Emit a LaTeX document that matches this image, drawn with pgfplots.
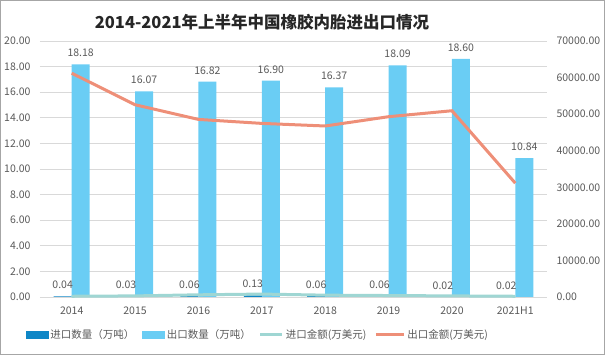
\documentclass[border=0pt]{standalone}
\usepackage{fontspec}
\setmainfont{Noto Sans CJK SC}
\usepackage{pgfplots}
\pgfplotsset{compat=1.18}
\definecolor{impc}{HTML}{0E86C6}
\definecolor{expc}{HTML}{6ACDF4}
\definecolor{impl}{HTML}{9FD6D3}
\definecolor{expl}{HTML}{EE8F78}
\definecolor{gridc}{HTML}{D9D9D9}
\definecolor{labc}{HTML}{595959}
\definecolor{titc}{HTML}{262626}
\definecolor{framec}{HTML}{A6A6A6}
\begin{document}
\begin{tikzpicture}
\path[use as bounding box] (-40pt,-58pt) rectangle (565pt,297pt);
\draw[framec, line width=1pt] (-39.5pt,-57.5pt) rectangle (564.5pt,296.5pt);
\node[font=\fontsize{16.5}{18}\selectfont\bfseries, text=titc] at (222pt,275pt) {2014-2021年上半年中国橡胶内胎进出口情况};
\begin{axis}[
 at={(0pt,0pt)}, anchor=south west,
 scale only axis, width=507pt, height=256pt,
 xmin=-0.5, xmax=7.5, ymin=0, ymax=20,
 ybar=0pt, bar width=18pt,
 xtick={0,...,7}, xticklabels={2014,2015,2016,2017,2018,2019,2020,2021H1},
 ytick={0,2,...,20},
 /pgf/number format/assume math mode=true,
 yticklabel style={xshift=-6pt, /pgf/number format/.cd, fixed, fixed zerofill, precision=2},
 ymajorgrids, grid style={draw=gridc, line width=0.8pt},
 axis line style={draw=none}, major tick length=0pt,
 tick label style={font=\fontsize{10.5}{12}\selectfont, text=labc},
 xticklabel style={yshift=-6pt},
 nodes near coords={\pgfmathprintnumber[fixed,fixed zerofill,precision=2,assume math mode=true]{\pgfplotspointmeta}},
 every node near coord/.append style={font=\fontsize{10.5}{12}\selectfont, text=labc, yshift=4pt},
 clip=false
]
\addplot[fill=impc, draw=none] coordinates {(0,0.04)(1,0.03)(2,0.06)(3,0.13)(4,0.06)(5,0.06)(6,0.02)(7,0.02)};
\addplot[fill=expc, draw=none] coordinates {(0,18.18)(1,16.07)(2,16.82)(3,16.90)(4,16.37)(5,18.09)(6,18.60)(7,10.84)};
\end{axis}
\begin{axis}[
 at={(0pt,0pt)}, anchor=south west,
 scale only axis, width=507pt, height=256pt,
 xmin=-0.5, xmax=7.5, ymin=0, ymax=70000,
 axis y line*=right, axis x line=none,
 axis line style={draw=none}, major tick length=0pt,
 ytick={0,10000,...,70000}, scaled y ticks=false,
 /pgf/number format/assume math mode=true,
 yticklabel style={xshift=6pt, /pgf/number format/.cd, fixed, fixed zerofill, precision=2, 1000 sep={}},
 tick label style={font=\fontsize{10.5}{12}\selectfont, text=labc},
 legend columns=4,
 legend style={draw=none, fill=none, at={(0.43,-0.148)}, anchor=center,
   font=\fontsize{10.5}{12}\selectfont, text=labc,
   /tikz/every even column/.append style={column sep=6pt}},
 clip=false
]
\addlegendimage{legend image code/.code={\fill[impc] (0pt,-3.5pt) rectangle (22pt,3.5pt);}}
\addlegendentry{进口数量（万吨）}
\addlegendimage{legend image code/.code={\fill[expc] (0pt,-3.5pt) rectangle (22pt,3.5pt);}}
\addlegendentry{出口数量（万吨）}
\addlegendimage{legend image code/.code={\draw[impl, line width=3pt] (0pt,0pt) -- (22pt,0pt);}}
\addlegendentry{进口金额(万美元)}
\addlegendimage{legend image code/.code={\draw[expl, line width=3pt] (0pt,0pt) -- (28pt,0pt);}}
\addlegendentry{出口金额(万美元)}
\addplot[forget plot, impl, line width=3pt, mark=none] coordinates {(0,200)(1,300)(2,600)(3,800)(4,500)(5,400)(6,300)(7,200)};
\addplot[forget plot, expl, line width=3pt, mark=none] coordinates {(0,61200)(1,52570)(2,48560)(3,47470)(4,46760)(5,49300)(6,50930)(7,31130)};
\end{axis}
\end{tikzpicture}
\end{document}
